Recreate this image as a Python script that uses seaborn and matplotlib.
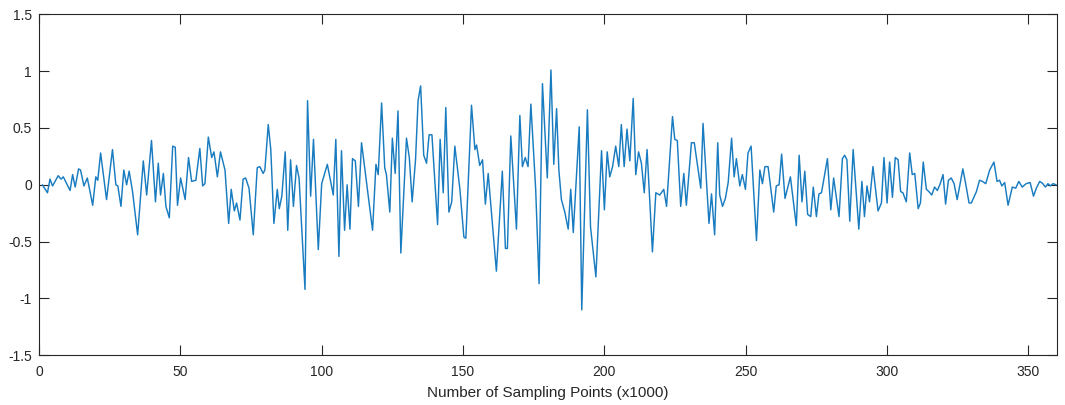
import matplotlib
matplotlib.use("Agg")
import matplotlib.pyplot as plt
import seaborn as sns
import pandas as pd

# Sampling position (thousands of points) and signal amplitude at each vertex
sample_k = [
    1.2, 3, 3.9, 4.8, 6.8, 7.8, 8.6, 9.8, 11, 11.9, 12.8, 14, 14.7, 15.9, 17.1, 19, 20.1, 20.8,
    21.8, 23.9, 26, 27.2, 27.9, 29, 30, 31, 31.9, 33.1, 34.9, 36.9, 38.1, 39.8, 41.2, 42.2, 43,
    44, 44.9, 46.1, 47.3, 48.2, 49, 50.1, 51.7, 52.9, 54, 55.5, 56.9, 57.9, 58.7, 59.9,
    61.1, 61.9, 63.1, 64.2, 65.8, 67.1, 68, 69.1, 69.9, 71.1, 72.2, 73.1, 74.3, 75.8, 77.2,
    78.1, 79.3, 79.9, 81.1, 82, 83.1, 84.3, 85, 85.9, 87.1, 88, 89, 90, 91.1, 92, 94.1, 95,
    96.1, 97.1, 98.8, 100, 102, 104.1, 105, 106.1, 107, 108.1, 109, 110, 110.9, 111.9, 113,
    114.1, 118, 119.2, 120, 121.2, 122.3, 122.9, 124.1, 125, 126, 127, 128, 130, 131, 132,
    133.2, 134.1, 135, 136.1, 137.1, 138, 139, 141, 141.9, 143, 143.9, 145, 146, 147.1,
    148.9, 150.3, 151, 153, 154.2, 154.8, 155.9, 156.9, 157.9, 158.9, 161.8, 163.9, 165,
    165.7, 166.9, 168.9, 170.1, 171, 172, 173, 174, 175.7, 176.9, 178.1, 179.8, 181.1,
    182.1, 183.1, 183.9, 184.8, 186, 187.2, 188.1, 189, 191.1, 192, 194, 195.1, 197, 199,
    200, 201, 201.9, 202.9, 204, 205.1, 206, 207, 208, 209, 210.2, 211.1, 212.1, 213.1,
    214.1, 215.1, 217, 218.2, 219.6, 221, 222, 224.1, 224.9, 225.8, 227, 228.1, 229, 230.8,
    231.8, 234.1, 234.9, 237, 237.9, 239, 240.1, 240.8, 241.8, 242.8, 243.8, 245, 245.9,
    246.7, 247.9, 248.8, 249.9, 250.8, 251.9, 253.8, 255, 255.9, 256.8, 257.9, 259.9,
    260.8, 261.8, 262.7, 263.9, 265.8, 267.9, 268.9, 269.9, 270.9, 271.9, 273, 273.9, 275,
    275.9, 276.8, 278.9, 280.1, 281.1, 283, 284.2, 285, 285.8, 286.8, 288, 290, 291.1, 292,
    292.9, 293.8, 295, 296.8, 298, 298.9, 300, 300.9, 301.9, 302.9, 303.9, 304.8, 305.6,
    306.8, 308, 308.9, 309.8, 311, 311.8, 312.8, 313.9, 314.8, 315.8, 316.8, 317.8, 318.8,
    319.8, 320.7, 321.7, 322.7, 323.7, 324.8, 326.8, 327.8, 329, 329.8, 331.6, 332.7,
    333.7, 334.9, 336.3, 337.8, 338.9, 339.8, 340.6, 341.6, 342.8, 344.3, 345.5, 346.6,
    347.8, 349.2, 350.6, 351.8, 352.8, 354, 355.1, 356, 356.9, 357.7, 358.7, 359.8,
]
amplitude = [
    0, -0.07, 0.05, -0.01, 0.08, 0.05, 0.07, 0.01, -0.05, 0.09, -0.02, 0.14, 0.13, -0.01,
    0.06, -0.18, 0.07, 0.04, 0.28, -0.13, 0.31, 0, -0.01, -0.19, 0.13, 0, 0.12, -0.06,
    -0.44, 0.21, -0.09, 0.39, -0.15, 0.19, -0.09, 0.1, -0.19, -0.29, 0.34, 0.33, -0.18,
    0.06, -0.13, 0.24, 0.03, 0.04, 0.32, -0.01, 0.01, 0.42,
    0.24, 0.29, 0.07, 0.29, 0.13, -0.34, -0.04, -0.23, -0.16, -0.31, 0.05, 0.06, -0.03,
    -0.44, 0.15, 0.16, 0.1, 0.13, 0.53, 0.31, -0.34, -0.04, -0.21, -0.1, 0.29, -0.4, 0.22,
    -0.19, 0.17, 0.06, -0.92, 0.74, -0.1, 0.4, -0.57, 0.01, 0.18, -0.09, 0.4, -0.63, 0.3,
    -0.4, 0, -0.39, 0.23, 0.21, -0.19, 0.37, -0.4, 0.18, 0.09, 0.72, 0.15, 0.09, -0.24,
    0.41, 0.1, 0.65, -0.6, 0.41, 0.24, -0.15, 0.22, 0.74, 0.87, 0.26, 0.19, 0.44, 0.44,
    -0.35, 0.4, -0.07, 0.68, -0.24, -0.15, 0.34, -0.04, -0.46, -0.47, 0.7, 0.31, 0.35,
    0.17, 0.22, -0.17, 0.1, -0.76, 0.12, -0.56, -0.56, 0.43, -0.39, 0.61, 0.16, 0.24,
    0.16, 0.71, -0.04, -0.87, 0.89, 0.06, 1.01, 0.18, 0.67, 0.13, -0.13, -0.24, -0.39,
    -0.04, -0.42, 0.51, -1.1, 0.66, -0.37, -0.81, 0.3, -0.22, 0.29, 0.07, 0.16, 0.34,
    0.16, 0.53, 0.16, 0.49, 0.21, 0.76, 0.09, 0.29, 0.19, -0.07, 0.31, -0.59, -0.07,
    -0.09, -0.04, -0.19, 0.6, 0.4, 0.39, -0.19, 0.1, -0.18, 0.37, 0.37, -0.03, 0.54,
    -0.34, -0.08, -0.44, 0.37, -0.09, -0.19, -0.12, 0.02, 0.41, 0.07, 0.23, -0.01, 0.09,
    -0.04, 0.28, 0.34, -0.49, 0.13, 0.01, 0.16, 0.16, -0.24, -0.01, 0, 0.27, -0.12, 0.07,
    -0.36, 0.26, -0.15, 0.12, -0.26, -0.28, -0.02, -0.28, -0.08, -0.07, 0.23, -0.22,
    0.06, -0.28, 0.23, 0.26, 0.22, -0.32, 0.31, -0.39, 0.03, -0.28, -0.01, -0.15, 0.16,
    -0.23, -0.16, 0.24, -0.16, 0.2, -0.11, 0.24, 0.22, -0.06, -0.07, -0.15, 0.28, 0.09,
    0.1, -0.21, -0.16, 0.2, -0.04, -0.06, -0.09, -0.02, -0.05, 0.01, 0.09, -0.17, 0.04,
    0.06, 0.01, -0.13, 0.14, 0.01, -0.16, -0.16, -0.06, 0.04, 0.03, 0.01, 0.13, 0.2,
    0.03, 0.04, -0.01, 0.02, -0.18, -0.02, -0.03, 0.03, -0.02, 0.01, 0.02, -0.1, -0.03,
    0.03, 0.01, -0.02, 0.01, -0.01, 0.01, 0,
]

x_ticks = [0, 50, 100, 150, 200, 250, 300, 350]
y_ticks = [-1.5, -1, -0.5, 0, 0.5, 1, 1.5]
y_tick_labels = ["-1.5", "-1", "-0.5", "0", "0.5", "1", "1.5"]

df = pd.DataFrame({"k": sample_k, "amp": amplitude})

sns.set_style("white")
plt.rcParams["font.family"] = ["Liberation Sans", "DejaVu Sans"]

fig = plt.figure(figsize=(10.65, 4.05), dpi=100)
ax = fig.add_axes([0.0366, 0.1227, 0.9556, 0.8420])

sns.lineplot(data=df, x="k", y="amp", ax=ax, color="#1a7cc0", linewidth=1.05,
             sort=False, estimator=None)

ax.set_xlim(0, 360)
ax.set_ylim(-1.5, 1.5)
ax.set_xticks(x_ticks)
ax.set_yticks(y_ticks)
ax.set_yticklabels(y_tick_labels)
ax.set_xlabel("Number of Sampling Points (x1000)", fontsize=11, color="#262626",
              labelpad=5)
ax.set_ylabel("")

edge = "#262626"
for s in ax.spines.values():
    s.set_visible(True)
    s.set_color(edge)
    s.set_linewidth(0.8)
ax.tick_params(direction="in", length=7, width=0.8, color=edge, labelcolor=edge,
               labelsize=10, top=True, right=True, bottom=True, left=True)
ax.tick_params(axis="x", pad=7)
ax.tick_params(axis="y", pad=5)

fig.savefig("out.png", dpi=100, facecolor="white")
